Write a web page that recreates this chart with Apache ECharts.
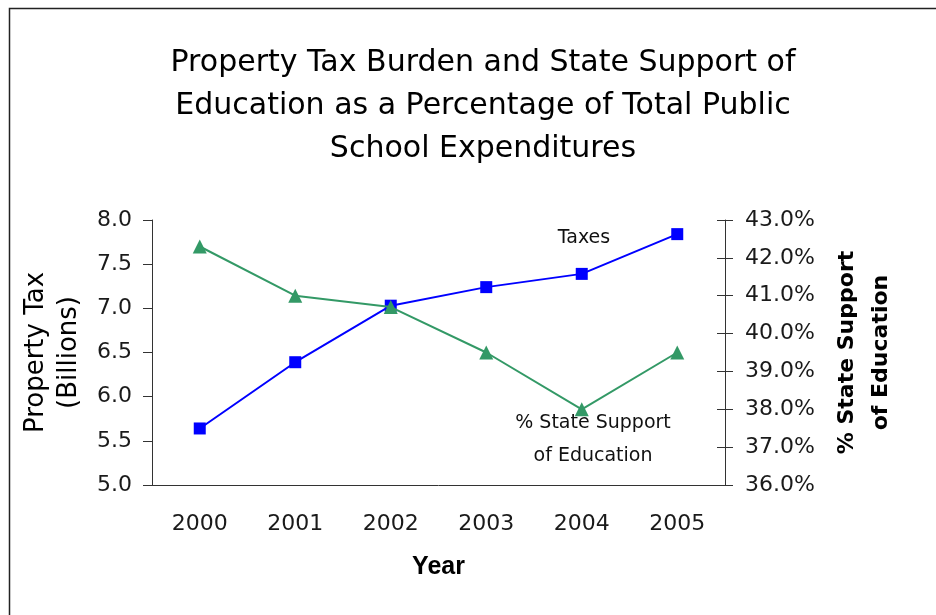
<!DOCTYPE html>
<html>
<head>
<meta charset="utf-8">
<script src="https://cdn.jsdelivr.net/npm/echarts@6/dist/echarts.min.js"></script>
<style>
  html, body { margin: 0; padding: 0; background: #fff; }
  #chart { width: 936px; height: 615px; }
</style>
</head>
<body>
<div id="chart"></div>
<script>
// Years on the category axis
const years = ['2000', '2001', '2002', '2003', '2004', '2005'];
// Property tax collected, billions of dollars
const propertyTax = [5.64, 6.39, 7.03, 7.24, 7.39, 7.84];
// State share of public school spending, percent
const stateSupport = [42.3, 41.0, 40.7, 39.5, 38.0, 39.5];

const taxAxis = { min: 5, max: 8, interval: 0.5 };
const pctAxis = { min: 36, max: 43, interval: 1 };

const tickFont = { fontFamily: 'DejaVu Sans', fontSize: 22, color: '#1a1a1a' };
const axisColor = '#333';

const chart = echarts.init(document.getElementById('chart'), null, { renderer: 'canvas' });

chart.setOption({
  backgroundColor: '#fff',
  animation: false,
  title: {
    text: 'Property Tax Burden and State Support of\nEducation as a Percentage of Total Public\nSchool Expenditures',
    left: 478,
    textAlign: 'center',
    top: 37,
    textStyle: {
      fontFamily: 'DejaVu Sans',
      fontWeight: 'normal',
      fontSize: 30,
      lineHeight: 43,
      color: '#000'
    }
  },
  grid: { left: 152, right: 211, top: 220, bottom: 130 },
  xAxis: {
    type: 'category',
    data: years,
    boundaryGap: true,
    name: 'Year',
    nameLocation: 'middle',
    nameGap: 70,
    nameTextStyle: { fontFamily: 'Liberation Sans', fontWeight: 'bold', fontSize: 25, color: '#000' },
    axisLine: { lineStyle: { color: axisColor, width: 1 } },
    axisTick: { alignWithLabel: false, length: 8, lineStyle: { color: axisColor } },
    axisLabel: Object.assign({ margin: 28 }, tickFont),
    splitLine: { show: false }
  },
  yAxis: [
    {
      type: 'value',
      position: 'left',
      min: taxAxis.min, max: taxAxis.max, interval: taxAxis.interval,
      name: 'Property Tax\n(Billions)',
      nameLocation: 'middle',
      nameRotate: 90,
      nameGap: 65,
      nameTextStyle: { fontFamily: 'DejaVu Sans', fontWeight: 'normal', fontSize: 26, lineHeight: 33, color: '#000' },
      axisLine: { show: true, lineStyle: { color: axisColor, width: 1 } },
      axisTick: { show: true, length: 9, lineStyle: { color: axisColor } },
      axisLabel: Object.assign({ margin: 20, formatter: v => v.toFixed(1) }, tickFont),
      splitLine: { show: false }
    },
    {
      type: 'value',
      position: 'right',
      min: pctAxis.min, max: pctAxis.max, interval: pctAxis.interval,
      name: '% State Support\nof Education',
      nameLocation: 'middle',
      nameRotate: 90,
      nameGap: 105,
      nameTextStyle: { fontFamily: 'DejaVu Sans', fontWeight: 'bold', fontSize: 22, lineHeight: 34, color: '#000' },
      axisLine: { show: true, lineStyle: { color: axisColor, width: 1 } },
      axisTick: { show: true, length: 8, lineStyle: { color: axisColor } },
      axisLabel: Object.assign({ margin: 20, formatter: v => v.toFixed(1) + '%' }, tickFont),
      splitLine: { show: false }
    },
    {
      // inner half of the cross-style ticks on the percentage axis
      type: 'value',
      position: 'right',
      min: pctAxis.min, max: pctAxis.max, interval: pctAxis.interval,
      axisLine: { show: false },
      axisTick: { show: true, inside: true, length: 8, lineStyle: { color: axisColor } },
      axisLabel: { show: false },
      splitLine: { show: false }
    }
  ],
  series: [
    {
      name: 'Taxes',
      type: 'line',
      yAxisIndex: 0,
      data: propertyTax,
      symbol: 'rect',
      symbolSize: 12,
      lineStyle: { color: '#0000ff', width: 2 },
      itemStyle: { color: '#0000ff' },
      z: 3
    },
    {
      name: '% State Support of Education',
      type: 'line',
      yAxisIndex: 1,
      data: stateSupport,
      symbol: 'triangle',
      symbolSize: 14,
      lineStyle: { color: '#339966', width: 2 },
      itemStyle: { color: '#339966' },
      z: 4
    }
  ],
  graphic: [
    {
      type: 'rect',
      left: 7, top: 6,
      shape: { width: 1400, height: 1000 },
      style: { fill: 'none', stroke: '#222', lineWidth: 1.5 },
      silent: true, z: -10
    },
    {
      type: 'text',
      x: 584, y: 238,
      style: {
        text: 'Taxes', fontFamily: 'DejaVu Sans', fontSize: 19,
        align: 'center', verticalAlign: 'middle', fill: '#111'
      }
    },
    {
      type: 'text',
      x: 593, y: 423,
      style: {
        text: '% State Support', fontFamily: 'DejaVu Sans', fontSize: 19,
        align: 'center', verticalAlign: 'middle', fill: '#111'
      }
    },
    {
      type: 'text',
      x: 593, y: 456,
      style: {
        text: 'of Education', fontFamily: 'DejaVu Sans', fontSize: 19,
        align: 'center', verticalAlign: 'middle', fill: '#111'
      }
    }
  ]
});
</script>
</body>
</html>
